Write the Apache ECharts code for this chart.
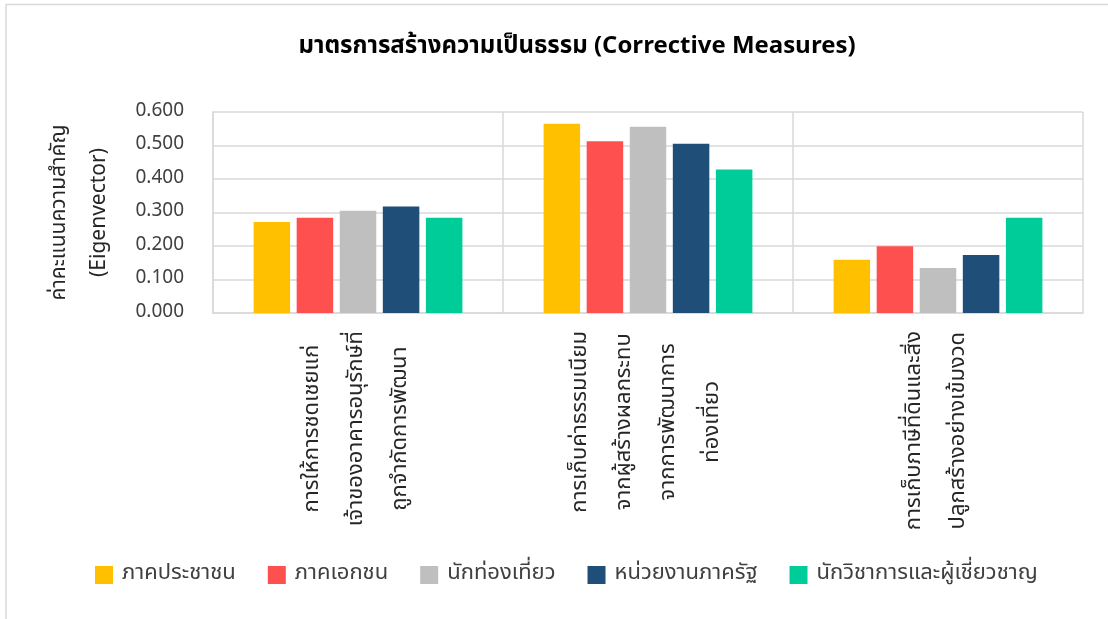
<!DOCTYPE html>
<html>
<head>
<meta charset="utf-8">
<title>มาตรการสร้างความเป็นธรรม (Corrective Measures)</title>
<script src="https://cdn.jsdelivr.net/npm/echarts@6/dist/echarts.min.js"></script>
<style>
  html, body { margin: 0; padding: 0; background: #ffffff; }
  #chart { width: 1108px; height: 619px; }
</style>
</head>
<body>
<div id="chart"></div>
<script>
// Category labels (line breaks where the label wraps)
const categories = [
  ['การให้การชดเชยแก่', 'เจ้าของอาคารอนุรักษ์ที่', 'ถูกจำกัดการพัฒนา'],
  ['การเก็บค่าธรรมเนียม', 'จากผู้สร้างผลกระทบ', 'จากการพัฒนาการ', 'ท่องเที่ยว'],
  ['การเก็บภาษีที่ดินและสิ่ง', 'ปลูกสร้างอย่างเข้มงวด']
];

// Stakeholder groups
const seriesNames = ['ภาคประชาชน', 'ภาคเอกชน', 'นักท่องเที่ยว', 'หน่วยงานภาครัฐ', 'นักวิชาการและผู้เชี่ยวชาญ'];

// Eigenvector weights per group, one value per category
const publicSector   = [0.272, 0.565, 0.159];
const privateSector  = [0.284, 0.513, 0.199];
const tourists       = [0.305, 0.556, 0.134];
const government     = [0.318, 0.505, 0.173];
const experts        = [0.284, 0.428, 0.284];

const yTicks = { min: 0, max: 0.6, interval: 0.1 };

const colors = ['#FFC000', '#FF5050', '#BFBFBF', '#1F4E79', '#00CC99'];
const values = [publicSector, privateSector, tourists, government, experts];

const FONT = "Waree, 'Noto Sans Thai', 'Leelawadee UI', Tahoma, 'Noto Sans', 'DejaVu Sans', sans-serif";
const chart = echarts.init(document.getElementById('chart'), null, { renderer: 'canvas' });

chart.setOption({
  backgroundColor: '#ffffff',
  animation: false,
  textStyle: { fontFamily: FONT },
  graphic: [{
    type: 'rect',
    shape: { x: 6, y: 4.5, width: 1200, height: 700 },
    style: { fill: 'none', stroke: '#d9d9d9', lineWidth: 1.5 },
    silent: true
  }],
  title: {
    text: 'มาตรการสร้างความเป็นธรรม (Corrective Measures)',
    left: 572,
    top: 31,
    textAlign: 'center',
    textStyle: { fontFamily: FONT, fontSize: 24, fontWeight: 'bold', color: '#000000' }
  },
  legend: {
    data: seriesNames,
    bottom: 28,
    left: 90,
    itemWidth: 18,
    itemHeight: 18,
    itemGap: 32,
    icon: 'rect',
    textStyle: { fontFamily: FONT, fontSize: 22, color: '#404040', padding: [0, 0, 0, 4] }
  },
  grid: { left: 213, right: 25, top: 112, bottom: 306, containLabel: false },
  xAxis: {
    type: 'category',
    data: categories.map(lines => lines.map(l => '{c|' + l + '}').join('\n')),
    axisTick: { show: false },
    axisLine: { show: true, lineStyle: { color: '#d9d9d9', width: 1.5 } },
    splitLine: { show: true, lineStyle: { color: '#d9d9d9', width: 1.5 } },
    axisLabel: {
      rotate: 90,
      margin: 18,
      interval: 0,
      color: '#262626',
      fontFamily: FONT,
      fontSize: 22,
      lineHeight: 44,
      rich: { c: { align: 'center', fontFamily: FONT, fontSize: 22, lineHeight: 44, color: '#262626' } }
    }
  },
  yAxis: {
    type: 'value',
    min: yTicks.min,
    max: yTicks.max,
    interval: yTicks.interval,
    name: 'ค่าคะแนนความสำคัญ\n(Eigenvector)',
    nameLocation: 'middle',
    nameRotate: 90,
    nameGap: 92,
    nameTextStyle: { fontFamily: FONT, fontSize: 21, color: '#262626', lineHeight: 40 },
    axisLine: { show: true, lineStyle: { color: '#d9d9d9', width: 1.5 } },
    axisTick: { show: false },
    splitLine: { show: true, lineStyle: { color: '#d9d9d9', width: 1.5 } },
    axisLabel: {
      margin: 29,
      fontFamily: FONT,
      fontSize: 19,
      color: '#404040',
      formatter: v => v.toFixed(3)
    }
  },
  series: seriesNames.map((name, i) => ({
    name,
    type: 'bar',
    data: values[i],
    barGap: '18%',
    barCategoryGap: '28%',
    itemStyle: { color: colors[i] }
  }))
});
</script>
</body>
</html>
